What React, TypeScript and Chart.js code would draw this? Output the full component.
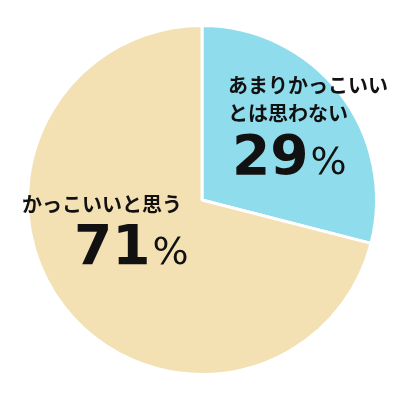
import React, { useEffect, useRef } from "react";
import { Chart, registerables } from "chart.js";

Chart.register(...registerables);

const categories = ["あまりかっこいいとは思わない", "かっこいいと思う"];
const categoryLines = [["あまりかっこいい", "とは思わない"], ["かっこいいと思う"]];
const values = [29, 71];
const colors = ["#8fdcec", "#f3e0b3"];

const JP_FONT = '"Noto Sans CJK JP", "Noto Sans", sans-serif';
const NUM_FONT = '"DejaVu Sans", sans-serif';

// Draws the category caption and the percentage for each slice.
const sliceLabels = {
  id: "sliceLabels",
  afterDatasetsDraw(chart: Chart) {
    const { ctx, chartArea } = chart;
    const cx = (chartArea.left + chartArea.right) / 2;
    const cy = (chartArea.top + chartArea.bottom) / 2;
    const data = chart.data.datasets[0].data as number[];
    // offsets of caption block and number baseline from the pie centre
    const spots = [
      { x: cx + 26, captionY: cy - 115, numY: cy - 26 },
      { x: cx - 180, captionY: cy + 4, numY: cy + 64, numX: cx - 128 },
    ];
    ctx.save();
    ctx.fillStyle = "#111111";
    data.forEach((v, i) => {
      const s = spots[i];
      ctx.font = `bold 20px ${JP_FONT}`;
      ctx.textBaseline = "middle";
      ctx.textAlign = "left";
      categoryLines[i].forEach((line, j) => {
        ctx.fillText(line, s.x, s.captionY + j * 28);
      });
      ctx.textBaseline = "alphabetic";
      const nx = s.numX ?? s.x + 4;
      ctx.font = `bold 55px ${NUM_FONT}`;
      const num = String(v);
      ctx.fillText(num, nx, s.numY);
      const w = ctx.measureText(num).width;
      ctx.font = `38px ${NUM_FONT}`;
      ctx.fillText("%", nx + w + 2, s.numY);
    });
    ctx.restore();
  },
};

export default function App() {
  const ref = useRef<HTMLCanvasElement | null>(null);
  useEffect(() => {
    if (!ref.current) return;
    const chart = new Chart(ref.current, {
      type: "pie",
      data: {
        labels: categories,
        datasets: [
          {
            data: values,
            backgroundColor: colors,
            borderColor: "#ffffff",
            borderWidth: 3,
          },
        ],
      },
      options: {
        responsive: false,
        animation: false,
        layout: { padding: { left: 26, right: 22, top: 24, bottom: 24 } },
        plugins: {
          legend: { display: false },
          tooltip: { enabled: false },
        },
      },
      plugins: [sliceLabels],
    });
    return () => chart.destroy();
  }, []);
  return (
    <div style={{ position: "absolute", left: 0, top: 0, width: 400, height: 400, background: "#ffffff" }}>
      <canvas ref={ref} width={400} height={400} />
    </div>
  );
}
